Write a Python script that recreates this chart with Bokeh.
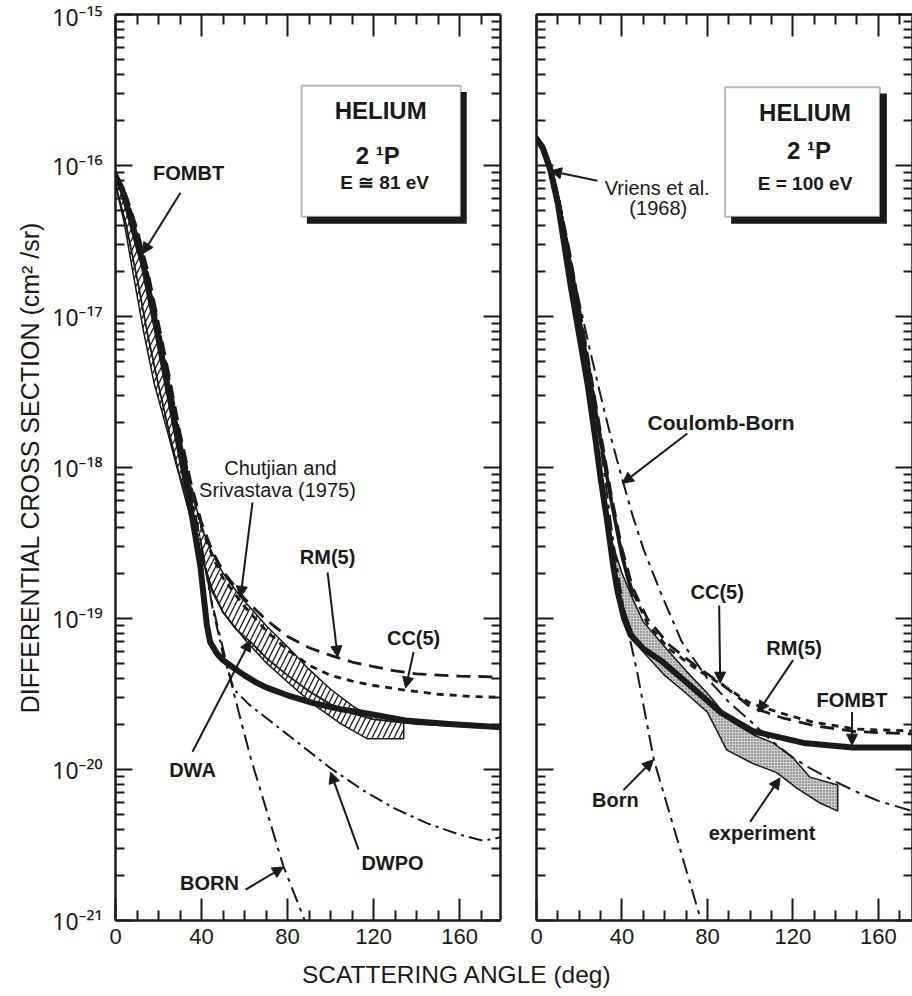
from bokeh.plotting import figure
from bokeh.models import (Range1d, FixedTicker, LogAxis, LinearAxis, Label, Arrow,
                          NormalHead, BoxAnnotation, Div, CustomJSTickFormatter)
from bokeh.layouts import row, column
from bokeh.embed import file_html
from bokeh.resources import INLINE

INK = "#1a1a1a"
FONT = "Liberation Sans"

# ---------------- data : left panel (E ~ 81 eV) ----------------
L_fombt_t = [0, 3, 6, 10, 13, 16, 19, 22, 25, 28, 31, 34, 37, 39.5, 41, 42.5, 44, 47, 50, 55, 60, 65, 70, 80, 92, 105, 117, 136, 155, 180]
L_fombt_v = [8.5e-17, 7e-17, 5e-17, 3.1e-17, 2.2e-17, 1.35e-17, 8.4e-18, 5e-18, 3e-18, 1.8e-18, 1.08e-18, 6.4e-19, 3.6e-19, 2.2e-19, 1.4e-19, 9e-20, 7e-20, 5.9e-20, 5.3e-20, 4.7e-20, 4.2e-20, 3.8e-20, 3.5e-20, 3.1e-20, 2.75e-20, 2.5e-20, 2.35e-20, 2.1e-20, 2.0e-20, 1.9e-20]

L_band_lo_t = [0, 4, 8, 13, 18, 24, 29, 33.5, 37, 41, 45, 50, 60, 70, 80, 92, 105, 117, 134]
L_band_lo_v = [7.5e-17, 4.2e-17, 2e-17, 8e-18, 3.6e-18, 1.76e-18, 9.5e-19, 6.3e-19, 3.8e-19, 2.3e-19, 1.5e-19, 1.1e-19, 7.3e-20, 5.1e-20, 3.8e-20, 2.7e-20, 2.0e-20, 1.6e-20, 1.6e-20]
L_band_hi_t = [0, 5, 10, 15, 20, 25, 30, 35, 40, 45, 50, 58, 70, 80, 90, 100, 110, 117, 134]
L_band_hi_v = [9e-17, 6e-17, 3.3e-17, 1.6e-17, 8e-18, 3.5e-18, 1.6e-18, 7.5e-19, 4e-19, 2.7e-19, 2e-19, 1.4e-19, 9e-20, 6.5e-20, 4.6e-20, 3.4e-20, 2.65e-20, 2.3e-20, 2.1e-20]

L_dwa_t = [0, 5, 10, 15, 20, 25, 30, 35, 40, 45, 50, 56, 62.8, 70, 80, 90, 100, 110, 120, 140, 160, 180]
L_dwa_v = [7.5e-17, 4e-17, 1.8e-17, 7.5e-18, 3.5e-18, 1.7e-18, 8.5e-19, 4.6e-19, 2.6e-19, 1.55e-19, 1.1e-19, 8.5e-20, 7.0e-20, 5.5e-20, 4.2e-20, 3.3e-20, 2.7e-20, 2.35e-20, 2.15e-20, 2.0e-20, 1.93e-20, 1.9e-20]

L_rm_t = [0, 5, 10, 15, 20, 25, 30, 35, 40, 45, 50, 60, 70, 80, 90, 100, 110, 120, 130, 140, 160, 180]
L_rm_v = [9e-17, 6.3e-17, 3.8e-17, 2e-17, 9e-18, 4e-18, 1.7e-18, 8e-19, 4.3e-19, 2.8e-19, 2.05e-19, 1.35e-19, 9.8e-20, 7.6e-20, 6.4e-20, 5.7e-20, 5.15e-20, 4.8e-20, 4.5e-20, 4.3e-20, 4.15e-20, 4.1e-20]

L_cc_t = [0, 5, 10, 15, 20, 25, 30, 35, 40, 45, 50, 60, 70, 80, 90, 100, 110, 120, 135, 150, 165, 180]
L_cc_v = [9e-17, 6.2e-17, 3.7e-17, 1.9e-17, 8.5e-18, 3.8e-18, 1.6e-18, 7.5e-19, 4e-19, 2.6e-19, 1.85e-19, 1.2e-19, 8.3e-20, 6.2e-20, 4.9e-20, 4.2e-20, 3.85e-20, 3.6e-20, 3.35e-20, 3.15e-20, 3.05e-20, 3.0e-20]

L_dwpo_t = [0, 5, 10, 15, 20, 25, 30, 35, 40, 45, 50, 55, 62, 70, 85, 100, 115, 130, 145, 160, 170, 175, 180]
L_dwpo_v = [8.8e-17, 6e-17, 3.5e-17, 1.8e-17, 8e-18, 3.5e-18, 1.5e-18, 6.8e-19, 3e-19, 1.2e-19, 5.8e-20, 3.4e-20, 2.7e-20, 2.2e-20, 1.5e-20, 1.02e-20, 7.3e-21, 5.5e-21, 4.4e-21, 3.7e-21, 3.4e-21, 3.45e-21, 3.6e-21]

L_born_t = [0, 5, 10, 15, 20, 25, 30, 35, 40, 45, 50, 55, 62.8, 70, 78, 88, 95]
L_born_v = [8.8e-17, 6e-17, 3.5e-17, 1.8e-17, 8e-18, 3.5e-18, 1.5e-18, 6.8e-19, 3e-19, 1.25e-19, 6.3e-20, 3.2e-20, 1.2e-20, 5.5e-21, 2.3e-21, 1e-21, 5.5e-22]

# ---------------- data : right panel (E = 100 eV) ----------------
R_fombt_t = [0, 3, 6.5, 10, 13, 16, 20, 24, 28, 30, 33, 36, 38, 41, 44, 50, 58, 70, 86, 101, 125, 148, 176]
R_fombt_v = [1.5e-16, 1.3e-16, 9.3e-17, 5.6e-17, 3e-17, 1.6e-17, 7.5e-18, 3.5e-18, 1.4e-18, 8.5e-19, 4.5e-19, 2.2e-19, 1.5e-19, 1.0e-19, 7.8e-20, 6.3e-20, 5.3e-20, 3.8e-20, 2.4e-20, 1.8e-20, 1.5e-20, 1.4e-20, 1.4e-20]

R_vriens_t = [0, 3, 6.5, 10, 15, 20, 25, 30, 35, 40, 45]
R_vriens_v = [1.55e-16, 1.35e-16, 1e-16, 6.2e-17, 2.6e-17, 1.0e-17, 4e-18, 1.5e-18, 6e-19, 2.6e-19, 1.4e-19]

R_cc_t = [0, 5, 10, 15, 20, 25, 30, 35, 40, 45, 52, 62, 75, 86, 100, 115, 130, 150, 176]
R_cc_v = [1.5e-16, 1.15e-16, 6.2e-17, 2.8e-17, 1.1e-17, 4.3e-18, 1.6e-18, 6.2e-19, 2.7e-19, 1.5e-19, 9.2e-20, 6.3e-20, 4.6e-20, 3.7e-20, 2.75e-20, 2.35e-20, 2.05e-20, 1.85e-20, 1.8e-20]

R_rm_t = [0, 5, 10, 15, 20, 25, 30, 35, 40, 45, 52, 62, 75, 86, 100, 115, 130, 150, 176]
R_rm_v = [1.5e-16, 1.17e-16, 6.4e-17, 2.9e-17, 1.15e-17, 4.5e-18, 1.7e-18, 6.6e-19, 2.9e-19, 1.6e-19, 9.9e-20, 6.7e-20, 4.8e-20, 3.75e-20, 2.6e-20, 2.2e-20, 1.95e-20, 1.78e-20, 1.72e-20]

R_cb_t = [0, 5, 10, 15, 20, 25, 30, 35, 40, 45, 50, 58, 68, 80, 90, 100, 110, 120, 128, 140, 150, 160, 176]
R_cb_v = [1.5e-16, 1.1e-16, 6.5e-17, 2.8e-17, 1.25e-17, 6e-18, 3e-18, 1.55e-18, 8.5e-19, 4.8e-19, 2.9e-19, 1.5e-19, 7e-20, 4e-20, 2.8e-20, 2.1e-20, 1.55e-20, 1.2e-20, 1.02e-20, 8.3e-21, 7.1e-21, 6.2e-21, 5.3e-21]

R_born_t = [0, 5, 10, 15, 20, 25, 30, 36, 41, 47, 55, 66, 77, 85]
R_born_v = [1.5e-16, 1.1e-16, 6e-17, 2.6e-17, 1e-17, 3.8e-18, 1.4e-18, 3.2e-19, 1.1e-19, 4.5e-20, 1.15e-20, 3.4e-21, 1e-21, 4.5e-22]

R_exp_lo_t = [32, 35, 40, 45, 50, 60, 70, 80, 89, 101, 112.6, 122, 132.7, 141]
R_exp_lo_v = [4.6e-19, 2.6e-19, 1.25e-19, 8e-20, 6e-20, 4.2e-20, 3.2e-20, 2.4e-20, 1.35e-20, 1.1e-20, 9.5e-21, 7.5e-21, 6.0e-21, 5.3e-21]
R_exp_hi_t = [32, 35, 40, 45, 50, 60, 70, 80, 90.7, 101.4, 110.7, 120, 128, 141]
R_exp_hi_v = [4.6e-19, 3.3e-19, 2.0e-19, 1.35e-19, 9.5e-20, 6.5e-20, 4.5e-20, 3.2e-20, 2.1e-20, 1.7e-20, 1.5e-20, 1.2e-20, 8.9e-21, 7.9e-21]

X_MAJOR = [0, 40, 80, 120, 160]
X_MINOR = [t for t in range(10, 180, 10) if t % 40 != 0]
Y_MAJOR = [10.0 ** e for e in range(-21, -14)]
Y_MINOR = [m * 10.0 ** e for e in range(-21, -15) for m in range(2, 10)]

SUP_JS = """
const sup = {"-": "\u207b", "0": "\u2070", "1": "\u00b9", "2": "\u00b2", "3": "\u00b3",
             "4": "\u2074", "5": "\u2075", "6": "\u2076", "7": "\u2077", "8": "\u2078", "9": "\u2079"};
const e = Math.round(Math.log10(tick));
return "10" + String(e).split("").map(c => sup[c]).join("");
"""


def style_axis(ax, major_in, minor_in, labels, size="21px", font=FONT):
    ax.axis_line_width = 2.5
    ax.axis_line_color = INK
    ax.major_tick_in = major_in
    ax.major_tick_out = 0
    ax.minor_tick_in = minor_in
    ax.minor_tick_out = 0
    ax.major_tick_line_width = 2
    ax.minor_tick_line_width = 2
    ax.major_tick_line_color = INK
    ax.minor_tick_line_color = INK
    if labels:
        ax.major_label_text_font = font
        ax.major_label_text_font_size = size
        ax.major_label_text_color = INK
    else:
        ax.formatter = CustomJSTickFormatter(code="return '';")
        ax.major_label_text_font_size = "1px"
        ax.major_label_standoff = 0


def panel(x_end, width, b_left, b_right, ylabels):
    p = figure(width=width, height=956, x_range=Range1d(0, x_end),
               y_range=Range1d(1e-21, 1e-15), y_axis_type="log",
               output_backend="svg", toolbar_location=None,
               min_border_left=b_left, min_border_right=b_right,
               min_border_top=14, min_border_bottom=36,
               background_fill_color="white", border_fill_color="white")
    p.outline_line_color = None
    p.xgrid.visible = False
    p.ygrid.visible = False
    xt = FixedTicker(ticks=X_MAJOR, minor_ticks=X_MINOR)
    yt = FixedTicker(ticks=Y_MAJOR, minor_ticks=Y_MINOR)
    p.xaxis.ticker = xt
    p.yaxis.ticker = yt
    style_axis(p.xaxis[0], 22, 10, True, "22px")
    p.xaxis.major_label_standoff = 8
    style_axis(p.yaxis[0], 17, 9, ylabels, "23px", "Noto Sans")
    if ylabels:
        p.yaxis[0].formatter = CustomJSTickFormatter(code=SUP_JS)
        p.yaxis.major_label_standoff = 13
    top = LinearAxis(ticker=xt)
    style_axis(top, 22, 10, False)
    p.add_layout(top, "above")
    right = LogAxis(ticker=yt)
    style_axis(right, 17, 9, False)
    p.add_layout(right, "right")
    return p


def label(p, x, y, text, size="20px", bold=True):
    p.add_layout(Label(x=x, y=y, text=text, text_font=FONT, text_font_size=size,
                       text_font_style="bold" if bold else "normal",
                       text_align="center", text_baseline="middle", text_color=INK))


def arrow(p, x0, y0, x1, y1):
    p.add_layout(Arrow(end=NormalHead(size=11, fill_color=INK, line_color=INK, line_width=1),
                       x_start=x0, y_start=y0, x_end=x1, y_end=y1,
                       line_color=INK, line_width=2))


def info_box(p, left, right, top, bottom, sleft, sright, stop, sbottom, lines):
    p.add_layout(BoxAnnotation(left=sleft, right=sright, top=stop, bottom=sbottom,
                               fill_color=INK, fill_alpha=1, line_color=None))
    p.add_layout(BoxAnnotation(left=left, right=right, top=top, bottom=bottom,
                               fill_color="white", fill_alpha=1, line_color=INK, line_width=2))
    for (x, y, t, s) in lines:
        label(p, x, y, t, s, True)


# ---------------- left panel ----------------
p1 = panel(179, 510, 115, 10, True)
p1.yaxis[0].axis_label = "DIFFERENTIAL CROSS SECTION (cm² /sr)"
p1.yaxis[0].axis_label_text_font = FONT
p1.yaxis[0].axis_label_text_font_size = "25px"
p1.yaxis[0].axis_label_text_font_style = "normal"
p1.yaxis[0].axis_label_text_color = INK
p1.yaxis[0].axis_label_standoff = 5

p1.patch(L_band_lo_t + L_band_hi_t[::-1], L_band_lo_v + L_band_hi_v[::-1],
         fill_color="white", hatch_pattern="/", hatch_scale=11, hatch_weight=1.3,
         hatch_color=INK, line_color=INK, line_width=1.5)
p1.line(L_dwa_t, L_dwa_v, line_color=INK, line_width=1.8)
p1.line(L_born_t, L_born_v, line_color=INK, line_width=2, line_dash="16 6 4 6")
p1.line(L_dwpo_t, L_dwpo_v, line_color=INK, line_width=2, line_dash="14 5 3 5")
p1.line(L_rm_t, L_rm_v, line_color=INK, line_width=2.8, line_dash="14 8")
p1.line(L_cc_t, L_cc_v, line_color=INK, line_width=2.8, line_dash="7 6")
p1.line(L_fombt_t, L_fombt_v, line_color=INK, line_width=6, line_join="round", line_cap="round")

info_box(p1, 86.5, 160.5, 3.37e-16, 4.58e-17, 89, 163.3, 3.07e-16, 4.12e-17,
         [(123.3, 2.3e-16, "HELIUM", "24px"), (121.9, 1.16e-16, "2 ¹P", "24px"),
          (125.1, 7.7e-17, "E ≅ 81 eV", "19px")])

label(p1, 34, 8.95e-17, "FOMBT")
arrow(p1, 30.2, 6.6e-17, 12.6, 2.6e-17)
label(p1, 76.7, 9.86e-19, "Chutjian and", "20px", False)
label(p1, 75.3, 7.05e-19, "Srivastava (1975)", "20px", False)
arrow(p1, 63.7, 5.87e-19, 58.1, 1.38e-19)
label(p1, 98.6, 2.54e-19, "RM(5)")
arrow(p1, 98.6, 2.02e-19, 103.3, 5.55e-20)
label(p1, 138.6, 7.41e-20, "CC(5)")
arrow(p1, 138.6, 6.0e-20, 134.9, 3.46e-20)
label(p1, 35.8, 9.93e-21, "DWA")
arrow(p1, 35.8, 1.31e-20, 62.8, 7.2e-20)
label(p1, 128.8, 2.41e-21, "DWPO")
arrow(p1, 113, 2.95e-21, 100, 9.6e-21)
label(p1, 43.7, 1.77e-21, "BORN")
arrow(p1, 60.5, 1.6e-21, 78.1, 2.26e-21)

# ---------------- right panel ----------------
p2 = panel(176, 402, 26, 0, False)

p2.patch(R_exp_lo_t + R_exp_hi_t[::-1], R_exp_lo_v + R_exp_hi_v[::-1],
         fill_color="#cccccc", hatch_pattern=".", hatch_scale=3, hatch_weight=1,
         hatch_color="#555555", line_color=INK, line_width=1.5)
p2.line(R_born_t, R_born_v, line_color=INK, line_width=2, line_dash="16 6 4 6")
p2.line(R_cb_t, R_cb_v, line_color=INK, line_width=2, line_dash="16 6 4 6")
p2.line(R_vriens_t, R_vriens_v, line_color=INK, line_width=3.5)
p2.line(R_rm_t, R_rm_v, line_color=INK, line_width=2.8, line_dash="14 8")
p2.line(R_cc_t, R_cc_v, line_color=INK, line_width=2.8, line_dash="7 6")
p2.line(R_fombt_t, R_fombt_v, line_color=INK, line_width=6, line_join="round", line_cap="round")

info_box(p2, 88.3, 160.7, 3.3e-16, 4.58e-17, 91.1, 164, 3.0e-16, 4.12e-17,
         [(125.7, 2.23e-16, "HELIUM", "24px"), (127.6, 1.25e-16, "2 ¹P", "24px"),
          (125.7, 7.57e-17, "E = 100 eV", "19px")])

label(p2, 56.5, 7.13e-17, "Vriens et al.", "20px", False)
label(p2, 57, 5.25e-17, "(1968)", "20px", False)
arrow(p2, 28.5, 7.93e-17, 6.5, 9.2e-17)
label(p2, 86.4, 1.99e-18, "Coulomb-Born", "21px")
arrow(p2, 70.6, 1.68e-18, 40.2, 7.85e-19)
label(p2, 84.6, 1.49e-19, "CC(5)")
arrow(p2, 85.5, 1.22e-19, 86, 3.73e-20)
label(p2, 120.6, 6.35e-20, "RM(5)")
arrow(p2, 120.1, 5.3e-20, 103.7, 2.4e-20)
label(p2, 147.7, 2.88e-20, "FOMBT")
arrow(p2, 147.7, 2.4e-20, 147.7, 1.45e-20)
label(p2, 36.9, 6.28e-21, "Born")
arrow(p2, 40.7, 7.3e-21, 54.7, 1.16e-20)
label(p2, 105.6, 3.81e-21, "experiment")
arrow(p2, 100, 4.5e-21, 114, 8.8e-21)

xlabel = Div(text='<div style="padding-left:302px;font-family:\'Liberation Sans\',Arial,sans-serif;'
                  'font-size:24.5px;line-height:38px;color:#1a1a1a;white-space:nowrap">'
                  'SCATTERING ANGLE (deg)</div>',
             width=912, height=40, margin=(0, 0, 0, 0))

layout = column(row(p1, p2), xlabel)
open("out.html", "w").write(file_html(layout, INLINE, title="Helium 2 1P DCS"))
